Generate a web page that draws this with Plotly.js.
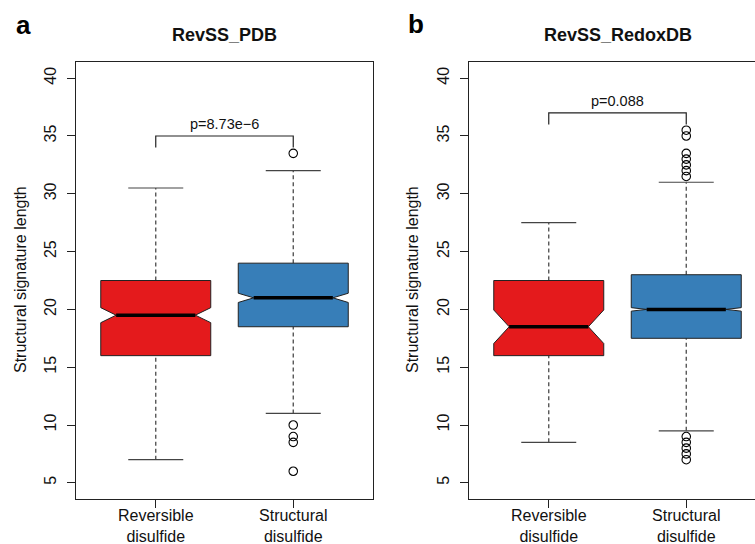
<!DOCTYPE html>
<html>
<head>
<meta charset="utf-8">
<script src="https://cdn.plot.ly/plotly-3.0.1.min.js"></script>
<style>html,body{margin:0;padding:0;background:#fff}#chart{width:755px;height:544px}</style>
</head>
<body>
<div id="chart"></div>
<script>
// ---------- data ----------
const categories = ['Reversible disulfide', 'Structural disulfide'];
const tickLabels = ['Reversible<br>disulfide', 'Structural<br>disulfide'];
const positions = [1, 2];
const yTicks = [5, 10, 15, 20, 25, 30, 35, 40];
const yTitle = 'Structural signature length';

// Panel a: RevSS_PDB
const pdbLowerWhisker = [7, 11];
const pdbQ1 = [16, 18.5];
const pdbMedian = [19.5, 21];
const pdbQ3 = [22.5, 24];
const pdbUpperWhisker = [30.5, 32];
const pdbNotchLow = [18.85, 20.6];
const pdbNotchHigh = [20.15, 21.4];
const pdbOutliersReversible = [];
const pdbOutliersStructural = [33.5, 10, 9, 8.5, 6];
const pdbPValue = 'p=8.73e\u22126';
const pdbBracket = [34, 35];

// Panel b: RevSS_RedoxDB
const redoxLowerWhisker = [8.5, 9.5];
const redoxQ1 = [16, 17.5];
const redoxMedian = [18.5, 20];
const redoxQ3 = [22.5, 23];
const redoxUpperWhisker = [27.5, 31];
const redoxNotchLow = [17.05, 19.85];
const redoxNotchHigh = [19.95, 20.15];
const redoxOutliersReversible = [];
const redoxOutliersStructural = [35.5, 35, 33.5, 33, 32.5, 32, 31.5, 9, 8.5, 8, 7.5, 7];
const redoxPValue = 'p=0.088';
const redoxBracket = [36, 37];

const fillColors = ['#E41A1C', '#377EB8'];

// ---------- styling ----------
const BOX_HALF = 0.4, CAP_HALF = 0.2, NOTCH_FRAC = 0.72;
const FONT = '"Liberation Sans", Arial, Helvetica, sans-serif';
const INK = '#222222';

function panelTraces(xa, ya, stats) {
  const t = [];
  for (let i = 0; i < positions.length; i++) {
    const x = positions[i];
    const lo = stats.lw[i], q1 = stats.q1[i], md = stats.md[i], q3 = stats.q3[i], hi = stats.uw[i];
    const nl = stats.nl[i], nh = stats.nh[i];
    t.push({type:'scatter', mode:'lines', xaxis:xa, yaxis:ya, x:[x, x, null, x, x], y:[lo, q1, null, q3, hi],
      line:{color:'#4a4a4a', width:1.3, dash:'4px,3px'}, hoverinfo:'skip', showlegend:false});
    t.push({type:'scatter', mode:'lines', xaxis:xa, yaxis:ya,
      x:[x - CAP_HALF, x + CAP_HALF, null, x - CAP_HALF, x + CAP_HALF], y:[lo, lo, null, hi, hi],
      line:{color:'#444', width:1.2}, hoverinfo:'skip', showlegend:false});
    const k = [-1, 1, 1, NOTCH_FRAC, 1, 1, -1, -1, -NOTCH_FRAC, -1, -1];
    t.push({type:'scatter', mode:'lines', xaxis:xa, yaxis:ya, name: categories[i],
      x:k.map(v => x + BOX_HALF * v),
      y:[q1, q1, nl, md, nh, q3, q3, nh, md, nl, q1],
      fill:'toself', fillcolor:fillColors[i], line:{color:INK, width:1}, showlegend:false});
    t.push({type:'scatter', mode:'lines', xaxis:xa, yaxis:ya,
      x:[x - BOX_HALF * NOTCH_FRAC, x + BOX_HALF * NOTCH_FRAC], y:[md, md],
      line:{color:'#000', width:3.5}, hoverinfo:'skip', showlegend:false});
    const out = stats.out[i];
    if (out.length) {
      t.push({type:'scatter', mode:'markers', xaxis:xa, yaxis:ya, x:out.map(() => x), y:out,
        marker:{symbol:'circle-open', size:8.5, color:'#000', line:{width:1.1}}, showlegend:false});
    }
  }
  t.push({type:'scatter', mode:'lines', xaxis:xa, yaxis:ya,
    x:[positions[0], positions[0], positions[1], positions[1]],
    y:[stats.br[0], stats.br[1], stats.br[1], stats.br[0]],
    line:{color:INK, width:1.2}, hoverinfo:'skip', showlegend:false});
  return t;
}

const traces = [].concat(
  panelTraces('x', 'y', {lw:pdbLowerWhisker, q1:pdbQ1, md:pdbMedian, q3:pdbQ3, uw:pdbUpperWhisker,
    nl:pdbNotchLow, nh:pdbNotchHigh, out:[pdbOutliersReversible, pdbOutliersStructural], br:pdbBracket}),
  panelTraces('x2', 'y2', {lw:redoxLowerWhisker, q1:redoxQ1, md:redoxMedian, q3:redoxQ3, uw:redoxUpperWhisker,
    nl:redoxNotchLow, nh:redoxNotchHigh, out:[redoxOutliersReversible, redoxOutliersStructural], br:redoxBracket})
);

const W = 755, H = 544;
const yDomain = [1 - 499 / H, 1 - 62 / H];
const yRange = [3.6, 41.4];

function xAxis(domain, range) {
  return {domain:domain, range:range, tickmode:'array', tickvals:positions, ticktext:tickLabels,
    showline:true, mirror:true, linecolor:INK, linewidth:1, ticks:'outside', ticklen:8, tickcolor:INK,
    ticklabelstandoff:-6,
    showgrid:false, zeroline:false, tickfont:{family:FONT, size:16, color:'#111'}, fixedrange:true};
}
function yAxis(anchor, mirror) {
  return {domain:yDomain, range:yRange, anchor:anchor, tickmode:'array', tickvals:yTicks,
    showline:true, mirror:mirror, linecolor:INK, linewidth:1, ticks:'outside', ticklen:8, tickcolor:INK,
    tickangle:-90, ticklabelstandoff:5, showgrid:false, zeroline:false,
    tickfont:{family:FONT, size:16, color:'#111'}, fixedrange:true};
}

function txt(text, x, y, size, extra) {
  return Object.assign({text:text, xref:'paper', yref:'paper', x:x / W, y:1 - y / H,
    xanchor:'center', yanchor:'middle', showarrow:false, font:{family:FONT, size:size, color:'#111'}}, extra || {});
}

const layout = {
  width:W, height:H, margin:{l:0, r:0, t:0, b:0}, paper_bgcolor:'#fff', plot_bgcolor:'#fff',
  showlegend:false, font:{family:FONT, color:'#111'},
  xaxis: Object.assign(xAxis([76 / W, 373 / W], [0.42, 2.58]), {anchor:'y'}),
  yaxis: yAxis('x', true),
  xaxis2: Object.assign(xAxis([469 / W, 1], [0.42, 2.5]), {anchor:'y2'}),
  yaxis2: yAxis('x2', false),
  annotations: [
    txt('<b>a</b>', 23.5, 25, 26, {font:{family:FONT, size:26, color:'#000'}}),
    txt('<b>b</b>', 416, 24, 26, {font:{family:FONT, size:26, color:'#000'}}),
    txt('<b>RevSS_PDB</b>', 224.5, 35, 18),
    txt('<b>RevSS_RedoxDB</b>', 617.5, 35, 18),
    txt(yTitle, 20, 280, 16, {textangle:-90}),
    txt(yTitle, 412, 280, 16, {textangle:-90}),
    {text:pdbPValue, xref:'x', yref:'y', x:1.5, y:pdbBracket[1] + 1, xanchor:'center', yanchor:'middle',
      showarrow:false, font:{family:FONT, size:14.5, color:'#111'}},
    {text:redoxPValue, xref:'x2', yref:'y2', x:1.5, y:redoxBracket[1] + 1, xanchor:'center', yanchor:'middle',
      showarrow:false, font:{family:FONT, size:14.5, color:'#111'}}
  ]
};

Plotly.newPlot('chart', traces, layout, {displayModeBar:false, staticPlot:true});
</script>
</body>
</html>
